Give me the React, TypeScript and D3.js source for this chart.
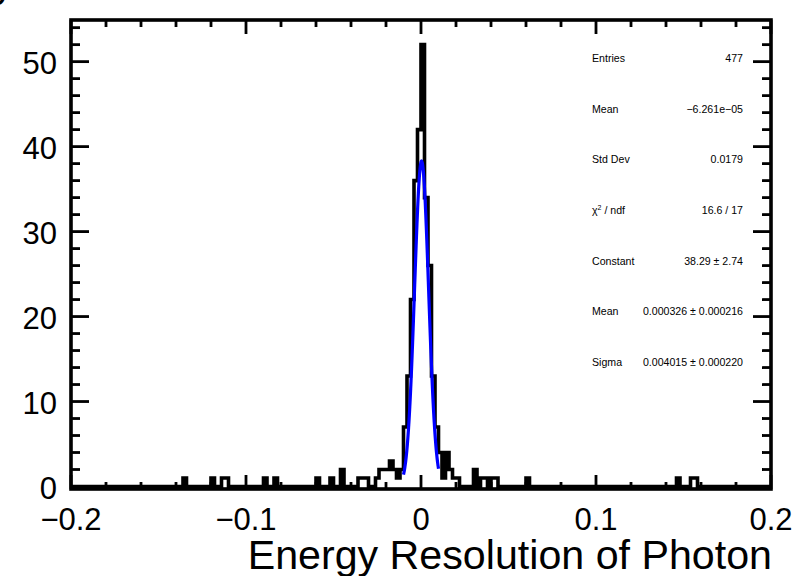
import React from "react";
import * as d3 from "d3";

// ---- data ----
const xDomain: [number, number] = [-0.2, 0.2];
const yDomain: [number, number] = [0, 54.9];
const binWidth = 0.002;
const nBins = 200;
// lower edges of non-empty bins and their counts
const binLow = [
  -0.136, -0.12, -0.114, -0.112, -0.09, -0.084, -0.06, -0.052, -0.046, -0.036,
  -0.034, -0.032, -0.026, -0.024, -0.022, -0.02, -0.018, -0.016, -0.014, -0.012,
  -0.01, -0.008, -0.006, -0.004, -0.002, 0.0, 0.002, 0.004, 0.006, 0.008,
  0.01, 0.012, 0.014, 0.016, 0.018, 0.02, 0.03, 0.034, 0.036, 0.04,
  0.042, 0.06, 0.146, 0.154, 0.156,
];
const binCount = [
  1, 1, 1, 1, 1, 1, 1, 1, 2, 1,
  1, 1, 1, 2, 2, 2, 3, 2, 1, 2,
  7, 13, 22, 36, 42, 52, 34, 26, 13, 7,
  4, 1, 4, 2, 1, 1, 2, 1, 1, 1,
  1, 1, 1, 1, 1,
];
// Gaussian fit parameters (from the stats box)
const fitConstant = 38.29;
const fitMean = 0.000326;
const fitSigma = 0.004015;
const fitRange: [number, number] = [-0.01, 0.01];

const xMajorTicks = [-0.2, -0.1, 0, 0.1, 0.2];
const xTickLabels = ["\u22120.2", "\u22120.1", "0", "0.1", "0.2"];
const yMajorTicks = [0, 10, 20, 30, 40, 50];
const yTickLabels = ["0", "10", "20", "30", "40", "50"];
const xMinorStep = 0.02;
const yMinorStep = 2;

const statLabels = ["Entries", "Mean", "Std Dev", "CHI", "Constant", "Mean", "Sigma"];
const statValues = [
  "477",
  "\u22126.261e\u221205",
  "0.0179",
  "16.6 / 17",
  "38.29 \u00b1 2.74",
  "0.000326 \u00b1 0.000216",
  "0.004015 \u00b1 0.000220",
];
const xTitle = "Energy Resolution of Photon";

export default function App() {
  const W = 797, H = 576;
  const L = 71, R = 771, T = 20, B = 489;
  const x = d3.scaleLinear().domain(xDomain).range([L, R]);
  const y = d3.scaleLinear().domain(yDomain).range([486.5, T]);

  const counts = new Array(nBins).fill(0);
  binLow.forEach((lo, i) => {
    const idx = Math.round((lo - xDomain[0]) / binWidth);
    counts[idx] = binCount[i];
  });
  const pts: [number, number][] = counts.map((c, i) => [xDomain[0] + i * binWidth, c]);
  pts.push([xDomain[1], counts[nBins - 1]]);
  const histPath = d3
    .line<[number, number]>()
    .x((d) => x(d[0]))
    .y((d) => y(d[1]))
    .curve(d3.curveStepAfter)(pts) as string;

  const fx = d3.range(0, 201).map((k) => fitRange[0] + ((fitRange[1] - fitRange[0]) * k) / 200);
  const fitPath = d3
    .line<number>()
    .x((v) => x(v))
    .y((v) => y(fitConstant * Math.exp(-0.5 * Math.pow((v - fitMean) / fitSigma, 2))))
    .curve(d3.curveLinear)(fx) as string;

  const xMinor = d3.range(Math.round((xDomain[1] - xDomain[0]) / xMinorStep) + 1).map(
    (k) => xDomain[0] + k * xMinorStep
  );
  const yMinor = d3.range(0, Math.floor(yDomain[1] / yMinorStep) + 1).map((k) => k * yMinorStep);
  const isMajorX = (v: number) => xMajorTicks.some((m) => Math.abs(m - v) < 1e-9);
  const isMajorY = (v: number) => yMajorTicks.some((m) => Math.abs(m - v) < 1e-9);

  const font = "'Liberation Sans', Arial, Helvetica, sans-serif";
  const tickW = 2.8;

  return (
    <svg
      width={W}
      height={H}
      viewBox={`0 0 ${W} ${H}`}
      style={{ position: "fixed", left: 0, top: 0, background: "#fff" }}
      fontFamily={font}
    >
      <rect x={0} y={0} width={W} height={H} fill="#fff" />
      {/* cut-off text at top-left */}
      <text x={14} y={-3} fontSize={40} textAnchor="end" fill="#000">gy</text>

      {/* histogram */}
      <path d={histPath} fill="none" stroke="#000" strokeWidth={3.6} strokeLinejoin="miter" />
      {/* fit */}
      <path d={fitPath} fill="none" stroke="#0000ff" strokeWidth={3.2} />

      {/* x ticks (bottom and top) */}
      {xMinor.map((v, i) => {
        const len = isMajorX(v) ? 14 : 7;
        return (
          <g key={"xt" + i}>
            <line x1={x(v)} x2={x(v)} y1={B} y2={B - len} stroke="#000" strokeWidth={tickW} />
            <line x1={x(v)} x2={x(v)} y1={T} y2={T + len} stroke="#000" strokeWidth={tickW} />
          </g>
        );
      })}
      {/* y ticks (left and right) */}
      {yMinor.map((v, i) => {
        const len = isMajorY(v) ? 18 : 9;
        return (
          <g key={"yt" + i}>
            <line x1={L} x2={L + len} y1={y(v)} y2={y(v)} stroke="#000" strokeWidth={tickW} />
            <line x1={R} x2={R - len} y1={y(v)} y2={y(v)} stroke="#000" strokeWidth={tickW} />
          </g>
        );
      })}

      {/* frame */}
      <rect x={L} y={T} width={R - L} height={B - T} fill="none" stroke="#000" strokeWidth={3.6} />

      {/* tick labels */}
      {xMajorTicks.map((v, i) => (
        <text key={"xl" + i} x={x(v)} y={530} fontSize={31} textAnchor="middle" fill="#000">
          {xTickLabels[i]}
        </text>
      ))}
      {yMajorTicks.map((v, i) => (
        <text key={"yl" + i} x={57} y={y(v) + 12.5} fontSize={31} textAnchor="end" fill="#000">
          {yTickLabels[i]}
        </text>
      ))}

      {/* axis title */}
      <text x={772} y={569} fontSize={41.2} textAnchor="end" fill="#000">
        {xTitle}
      </text>

      {/* stats box */}
      {statLabels.map((lab, i) => {
        const cy = 58.5 + i * 50.6 + 3.7;
        return (
          <g key={"st" + i} fontSize={10.6} fill="#000">
            {lab === "CHI" ? (
              <text x={592} y={cy}>
                {"\u03c7"}
                <tspan dy={-4} fontSize={7}>2</tspan>
                <tspan dy={4}>{" / ndf"}</tspan>
              </text>
            ) : (
              <text x={592} y={cy}>{lab}</text>
            )}
            <text x={743} y={cy} textAnchor="end">{statValues[i]}</text>
          </g>
        );
      })}
    </svg>
  );
}
